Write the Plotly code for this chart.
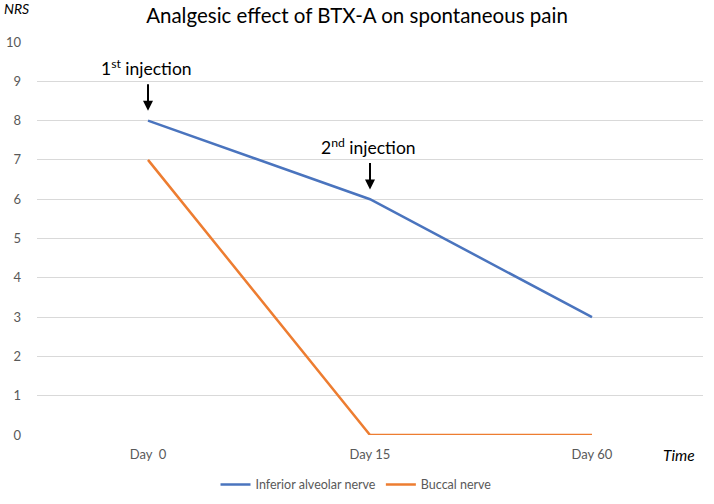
import plotly.graph_objects as go

days = ["Day\u00a0 0", "Day 15", "Day 60"]
inferior_alveolar = [8, 6, 3]
buccal = [7, 0, 0]
injections = ["1<sup>st</sup> injection", "2<sup>nd</sup> injection"]
injection_days = [days[0], days[1]]
injection_nrs = [inferior_alveolar[0], inferior_alveolar[1]]

FONT = "Lato, Open Sans, sans-serif"

fig = go.Figure()
fig.add_trace(go.Scatter(x=days, y=inferior_alveolar, mode="lines",
                         name="Inferior alveolar nerve",
                         line=dict(color="#4A74BE", width=2.5)))
fig.add_trace(go.Scatter(x=days, y=buccal, mode="lines",
                         name="Buccal nerve",
                         line=dict(color="#ED7D31", width=2.5)))

# arrows + labels for injections
for txt, d, v in zip(injections, injection_days, injection_nrs):
    fig.add_annotation(x=d, y=v + 0.25, xref="x", yref="y", text="",
                       showarrow=True, arrowhead=2, arrowsize=1, arrowwidth=2,
                       arrowcolor="black", ax=0, ay=-28)
    fig.add_annotation(x=d, y=v + 0.25, xref="x", yref="y", text=txt,
                       showarrow=False, yshift=43, xshift=-2,
                       font=dict(family=FONT, size=17.5, color="black"))

fig.add_annotation(x=0, y=1, xref="paper", yref="paper", xanchor="left",
                   yanchor="middle",
                   text="<i>NRS</i>", showarrow=False, xshift=-35, yshift=34,
                   font=dict(family=FONT, size=14, color="black"))
fig.add_annotation(x=1, y=0, xref="paper", yref="paper", xanchor="right",
                   yanchor="middle",
                   text="<i>Time</i>", showarrow=False, xshift=-6, yshift=-20,
                   font=dict(family=FONT, size=15.5, color="black"))

fig.update_layout(
    width=714, height=504,
    margin=dict(l=37, r=11, t=42, b=69, autoexpand=False),
    paper_bgcolor="white", plot_bgcolor="white",
    font=dict(family=FONT, color="#595959", size=13),
    title=dict(text="Analgesic effect of BTX-A on spontaneous pain",
               x=0.5, xanchor="center", y=0.968, yanchor="middle",
               font=dict(family=FONT, size=20.5, color="black")),
    xaxis=dict(type="category", range=[-0.5, 2.5], showgrid=False,
               showline=False, zeroline=False, ticklabelstandoff=10,
               automargin=False,
               tickfont=dict(size=13, color="#595959")),
    yaxis=dict(range=[0, 10], dtick=1, showgrid=True, gridcolor="#D9D9D9",
               gridwidth=1.2, zeroline=False, showline=False,
               automargin=False,
               ticklabelstandoff=15, tickfont=dict(size=13, color="#595959")),
    legend=dict(orientation="h", x=0.479, xanchor="center", y=-0.127,
                yanchor="middle", font=dict(size=12.5, color="#595959"),
                itemwidth=30, tracegroupgap=0),
    showlegend=True,
)

fig.write_html("out.html", config={"displayModeBar": False},
               post_script="document.body.style.margin='0';")
